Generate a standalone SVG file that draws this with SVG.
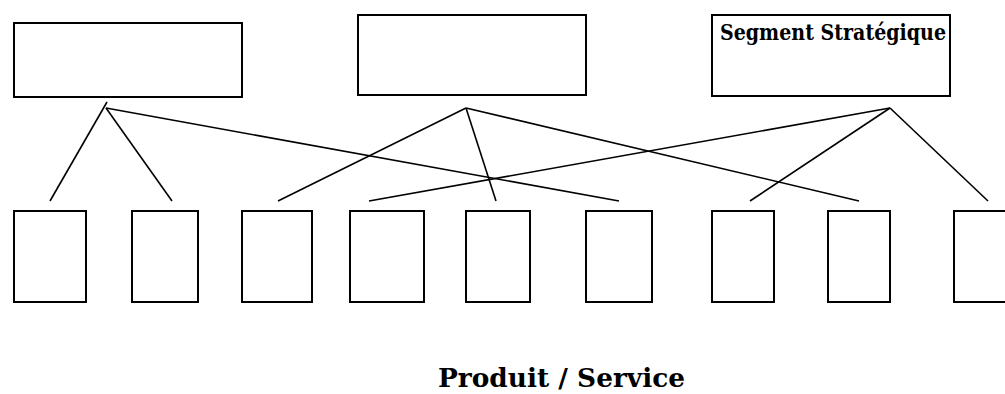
<svg xmlns="http://www.w3.org/2000/svg" width="1005" height="394" viewBox="0 0 1005 394">
<style>
.box{fill:#fff;stroke:#000;stroke-width:2}
.ln{stroke:#000;stroke-width:1.6;fill:none}
.t{font-family:"DejaVu Serif","Liberation Serif",serif;font-weight:bold;fill:#000}
</style>
<rect width="1005" height="394" fill="#fff"/>
<g id="connectors">
<line class="ln" x1="50" y1="201" x2="107" y2="102"/>
<line class="ln" x1="106" y1="108" x2="172" y2="201"/>
<line class="ln" x1="106" y1="108" x2="619" y2="201"/>
<line class="ln" x1="466" y1="108" x2="278" y2="201"/>
<line class="ln" x1="466" y1="108" x2="496" y2="201"/>
<line class="ln" x1="466" y1="108" x2="859" y2="201"/>
<line class="ln" x1="890" y1="108" x2="369" y2="201"/>
<line class="ln" x1="890" y1="108" x2="750" y2="201"/>
<line class="ln" x1="890" y1="108" x2="988" y2="201"/>
</g>
<g id="seg1"><rect class="box" x="14" y="23" width="228" height="74"/></g>
<g id="seg2"><rect class="box" x="358" y="15" width="228" height="80"/></g>
<g id="seg3"><rect class="box" x="712" y="15" width="238" height="81"/>
<text class="t" x="720" y="40" font-size="21.5" textLength="226" lengthAdjust="spacingAndGlyphs">Segment Stratégique</text></g>
<g id="p1"><rect class="box" x="14" y="211" width="72" height="91"/></g>
<g id="p2"><rect class="box" x="132" y="211" width="66" height="91"/></g>
<g id="p3"><rect class="box" x="242" y="211" width="70" height="91"/></g>
<g id="p4"><rect class="box" x="350" y="211" width="74" height="91"/></g>
<g id="p5"><rect class="box" x="466" y="211" width="64" height="91"/></g>
<g id="p6"><rect class="box" x="586" y="211" width="66" height="91"/></g>
<g id="p7"><rect class="box" x="712" y="211" width="62" height="91"/></g>
<g id="p8"><rect class="box" x="828" y="211" width="62" height="91"/></g>
<g id="p9"><rect class="box" x="954" y="211" width="60" height="91"/></g>
<g id="label"><text class="t" x="438" y="387" font-size="26" textLength="247" lengthAdjust="spacingAndGlyphs">Produit / Service</text></g>
</svg>
